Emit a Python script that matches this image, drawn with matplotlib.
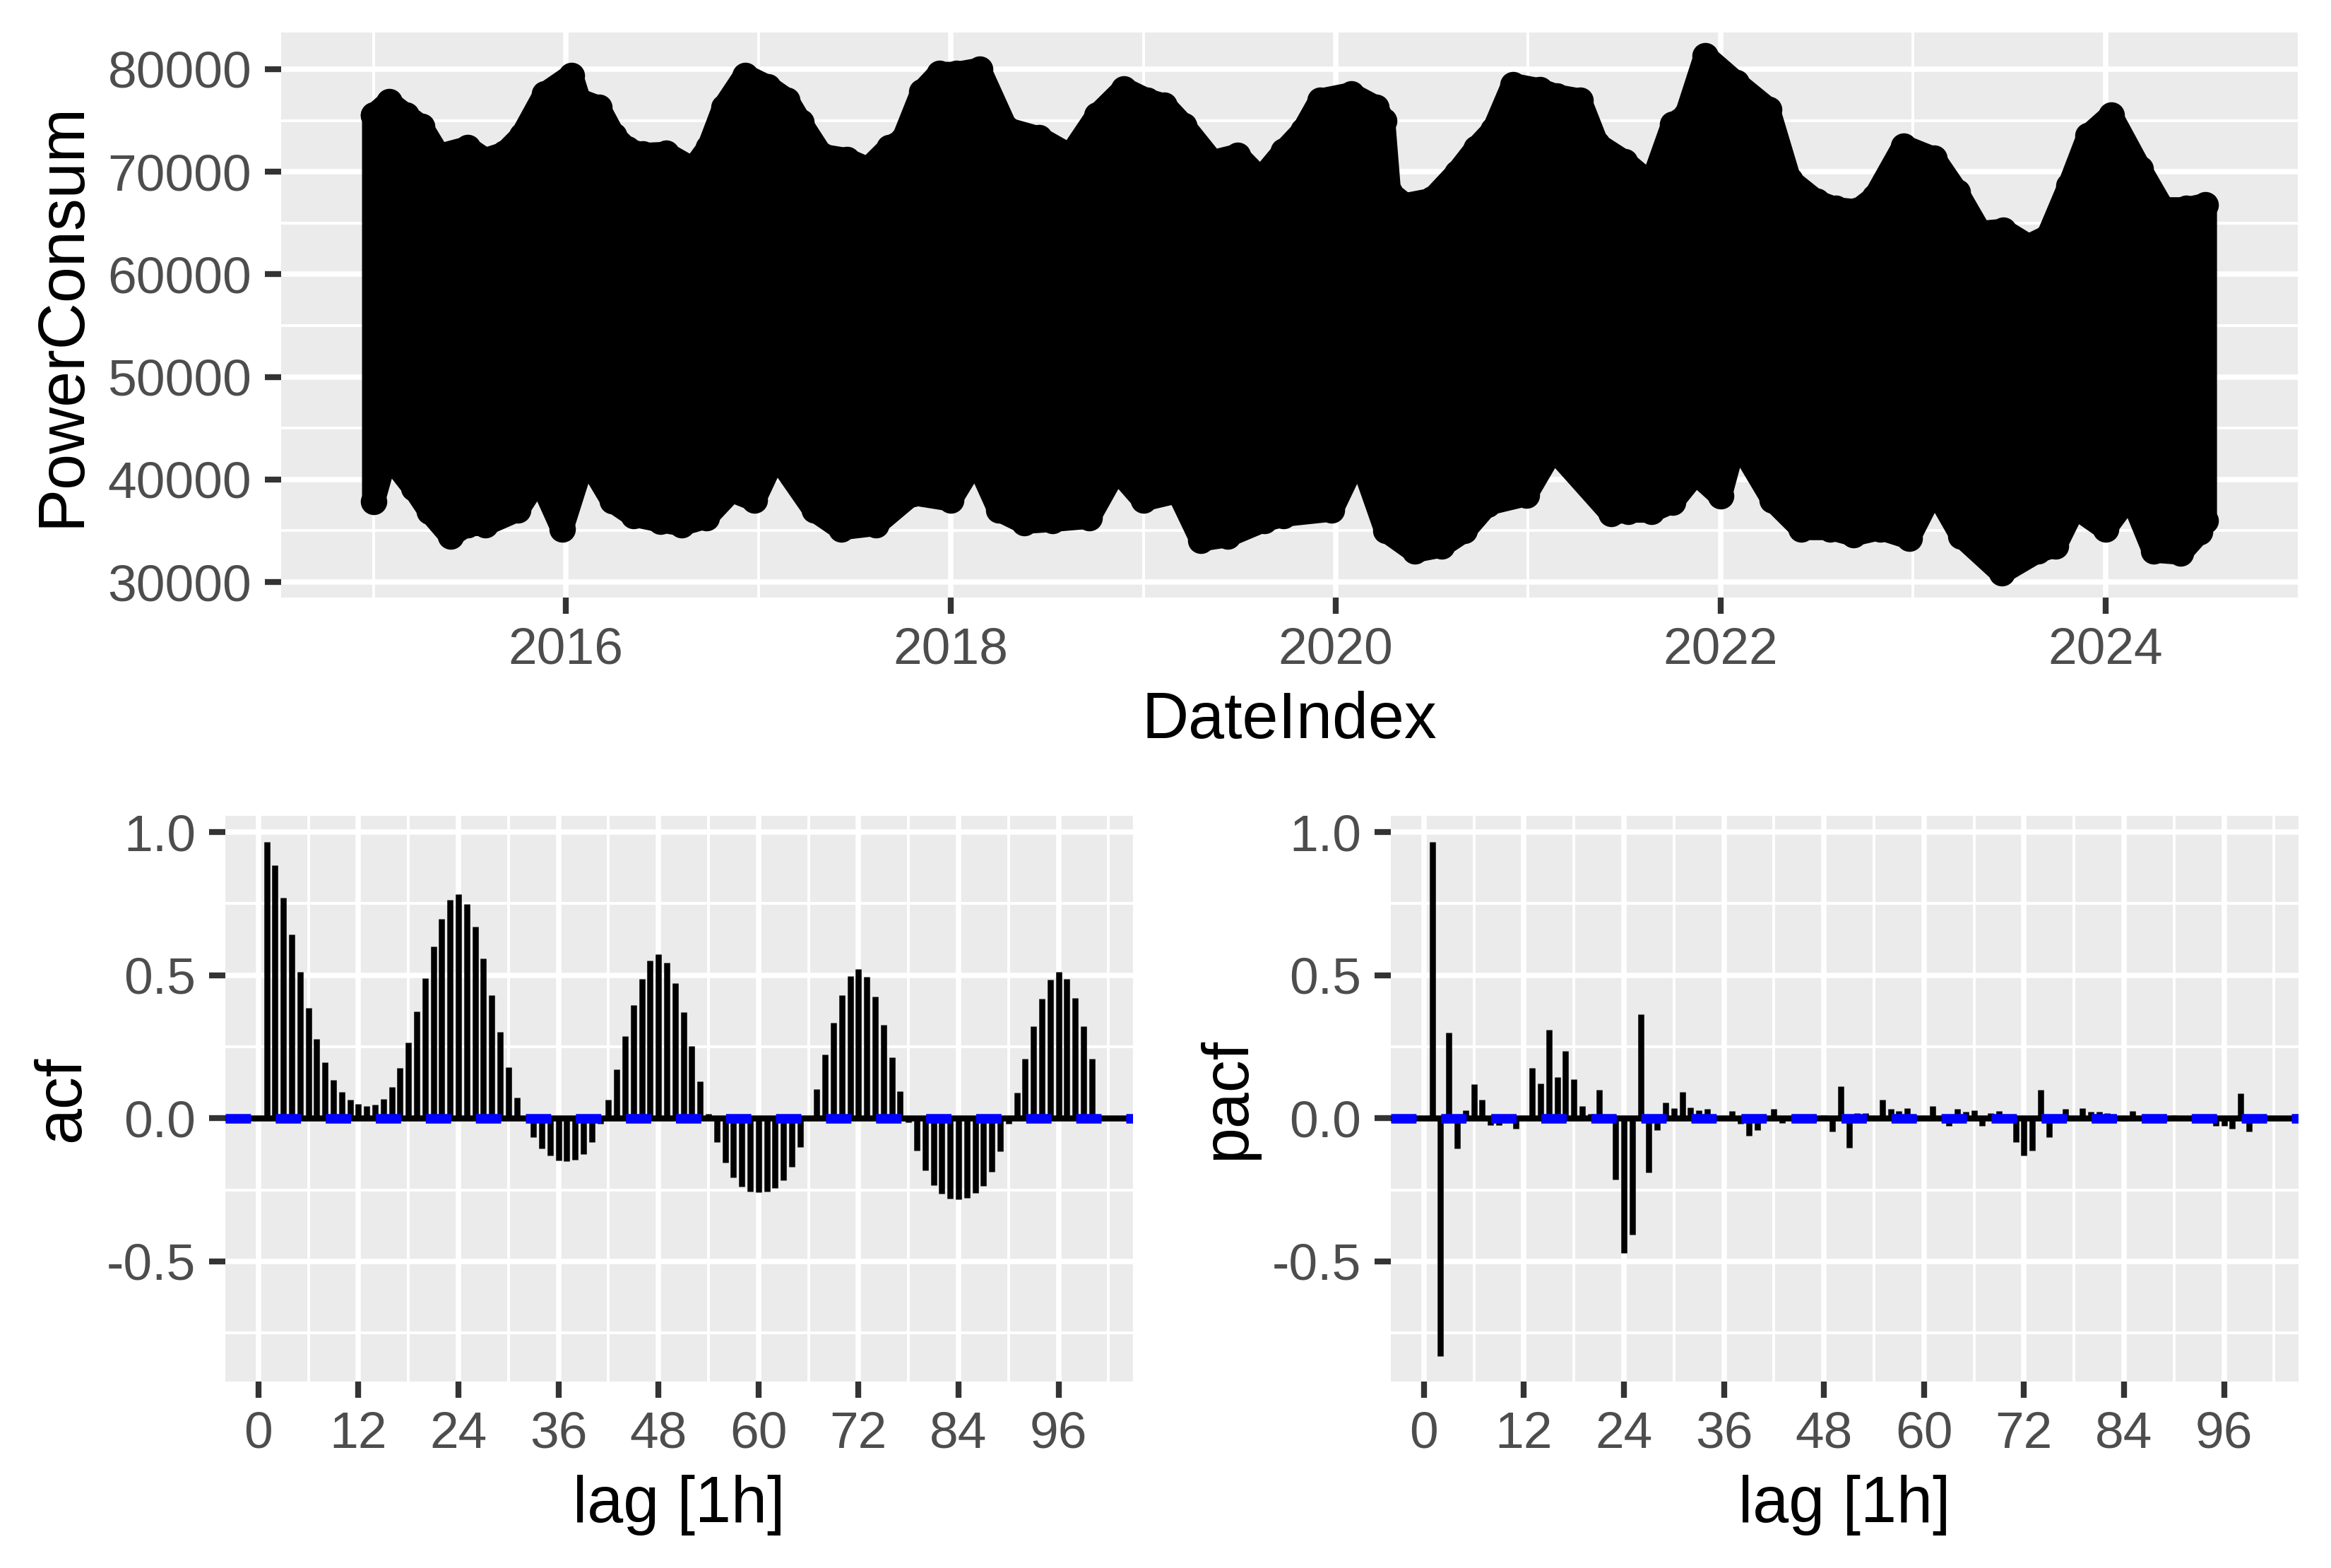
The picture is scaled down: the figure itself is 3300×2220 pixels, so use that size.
import numpy as np
import matplotlib.pyplot as plt

plt.rcParams['font.family'] = ['Liberation Sans', 'DejaVu Sans']
plt.rcParams['lines.scale_dashes'] = False

# outline of the hourly PowerConsum series (decimal year, value)
upper_year = [2015.00, 2015.08, 2015.17, 2015.25, 2015.34, 2015.49, 2015.58, 2015.68, 2015.77, 2015.89,
              2016.03, 2016.07, 2016.17, 2016.25, 2016.32, 2016.40, 2016.52, 2016.66, 2016.74, 2016.82,
              2016.93, 2017.05, 2017.15, 2017.22, 2017.33, 2017.46, 2017.57, 2017.68, 2017.75, 2017.85,
              2017.94, 2018.03, 2018.15, 2018.29, 2018.46, 2018.62, 2018.76, 2018.90, 2019.02, 2019.11,
              2019.21, 2019.36, 2019.49, 2019.61, 2019.73, 2019.83, 2019.92, 2020.08, 2020.21, 2020.25,
              2020.28, 2020.36, 2020.50, 2020.63, 2020.73, 2020.82, 2020.92, 2021.06, 2021.15, 2021.27,
              2021.36, 2021.50, 2021.64, 2021.75, 2021.82, 2021.92, 2022.08, 2022.25, 2022.36, 2022.50,
              2022.60, 2022.71, 2022.80, 2022.95, 2023.11, 2023.23, 2023.35, 2023.47, 2023.60, 2023.70,
              2023.81, 2023.91, 2024.03, 2024.18, 2024.30, 2024.42, 2024.52]
upper_val = [75500, 76800, 75500, 74400, 71600, 72350, 71200, 71800, 73500, 77600,
             79400, 77000, 76300, 73500, 72200, 71700, 71800, 70300, 72350, 76300,
             79400, 78300, 77000, 74800, 71600, 71200, 70300, 72350, 73100, 77800,
             79600, 79600, 80000, 74200, 73300, 71600, 75500, 78100, 77000, 76500,
             74500, 71000, 71600, 69300, 72000, 74000, 77000, 77600, 76300, 75000,
             68000, 66800, 67300, 69900, 72300, 74100, 78500, 78000, 77400, 77000,
             72700, 71000, 68800, 74600, 75500, 81300, 78700, 76100, 69200, 67100,
             66400, 66200, 67500, 72500, 71300, 68000, 64100, 64300, 62800, 63700,
             68600, 73500, 75500, 70300, 66400, 66400, 66800]
lower_year = [2015.00, 2015.07, 2015.21, 2015.29, 2015.40, 2015.49, 2015.58, 2015.75, 2015.86, 2015.98,
              2016.10, 2016.24, 2016.35, 2016.49, 2016.60, 2016.73, 2016.86, 2016.98, 2017.09, 2017.29,
              2017.43, 2017.61, 2017.80, 2018.00, 2018.13, 2018.25, 2018.38, 2018.53, 2018.72, 2018.86,
              2019.00, 2019.18, 2019.30, 2019.44, 2019.63, 2019.73, 2019.98, 2020.12, 2020.26, 2020.41,
              2020.55, 2020.67, 2020.79, 2020.99, 2021.13, 2021.43, 2021.52, 2021.64, 2021.75, 2021.87,
              2022.00, 2022.08, 2022.27, 2022.42, 2022.57, 2022.69, 2022.83, 2022.98, 2023.11, 2023.25,
              2023.46, 2023.65, 2023.74, 2023.84, 2024.00, 2024.13, 2024.25, 2024.39, 2024.49, 2024.52]
lower_val = [37840, 42500, 39150, 36900, 34500, 35600, 35600, 37000, 40200, 35200,
             42300, 37900, 36500, 35950, 35600, 36300, 38900, 38000, 42400, 37000,
             35200, 35600, 38600, 38000, 42000, 37000, 35800, 36000, 36300, 41000,
             38000, 38800, 34100, 34500, 36000, 36500, 37000, 42500, 35000, 33000,
             33500, 35000, 37600, 38500, 43000, 36700, 36900, 36900, 37800, 40600,
             38400, 44000, 38000, 35200, 35200, 34600, 35200, 34300, 39100, 34500,
             30900, 33000, 33500, 37300, 35200, 38500, 33000, 32800, 34900, 36000]

year_ticks = [2016, 2018, 2020, 2022, 2024]
power_ticks = [30000, 40000, 50000, 60000, 70000, 80000]

lags = np.arange(1, 101)
acf_vals = [0.967, 0.885, 0.771, 0.643, 0.511, 0.386, 0.278, 0.195, 0.133, 0.093,
            0.066, 0.051, 0.043, 0.048, 0.068, 0.109, 0.177, 0.266, 0.374, 0.490,
            0.601, 0.697, 0.763, 0.784, 0.749, 0.669, 0.558, 0.431, 0.301, 0.179,
            0.073, 0.005, -0.065, -0.105, -0.130, -0.147, -0.150, -0.145, -0.126, -0.084,
            -0.019, 0.066, 0.172, 0.287, 0.395, 0.488, 0.551, 0.573, 0.543, 0.471,
            0.370, 0.252, 0.130, 0.015, -0.082, -0.155, -0.206, -0.238, -0.255, -0.259,
            -0.255, -0.244, -0.217, -0.169, -0.100, -0.005, 0.102, 0.222, 0.334, 0.429,
            0.496, 0.521, 0.494, 0.425, 0.327, 0.213, 0.094, -0.014, -0.112, -0.183,
            -0.233, -0.263, -0.280, -0.283, -0.277, -0.262, -0.235, -0.186, -0.116, -0.019,
            0.089, 0.208, 0.321, 0.418, 0.485, 0.511, 0.486, 0.420, 0.321, 0.209]
pacf_vals = [0.967, -0.830, 0.299, -0.105, 0.029, 0.118, 0.064, -0.024, -0.024, -0.003,
             -0.037, 0.008, 0.176, 0.122, 0.309, 0.144, 0.235, 0.136, 0.042, 0.015,
             0.100, -0.012, -0.213, -0.470, -0.407, 0.364, -0.190, -0.040, 0.055, 0.036,
             0.091, 0.039, 0.029, 0.033, -0.006, 0.008, 0.025, -0.019, -0.061, -0.042,
             -0.006, 0.032, -0.017, -0.006, -0.008, 0.001, -0.008, 0.011, -0.047, 0.111,
             -0.102, 0.019, 0.019, -0.006, 0.064, 0.033, 0.025, 0.036, -0.008, -0.006,
             0.043, -0.006, -0.026, 0.033, 0.022, 0.029, -0.026, 0.019, 0.025, -0.012,
             -0.082, -0.130, -0.112, 0.100, -0.065, -0.006, 0.032, -0.006, 0.036, 0.022,
             0.022, 0.019, -0.006, -0.008, 0.025, 0.001, -0.006, -0.003, -0.008, 0.011,
             0.008, 0.006, 0.000, -0.006, -0.026, -0.026, -0.036, 0.087, -0.047, -0.006]
ci = 0.0068
lag_ticks = [0, 12, 24, 36, 48, 60, 72, 84, 96]
corr_ticks = [-0.5, 0.0, 0.5, 1.0]
corr_labels = ['-0.5', '0.0', '0.5', '1.0']


def gg_style(ax):
    ax.set_facecolor('#EBEBEB')
    for s in ax.spines.values():
        s.set_visible(False)
    ax.grid(which='major', color='white', lw=1.8)
    ax.grid(which='minor', color='white', lw=0.95)
    ax.set_axisbelow(True)
    ax.tick_params(which='major', length=5.5, width=2.0, color='#333333',
                   labelcolor='#4D4D4D', labelsize=17.6, pad=4.5)
    ax.tick_params(which='minor', length=0)


fig = plt.figure(figsize=(11, 7.4), dpi=300)
ax_ts = fig.add_axes([0.1206, 0.6189, 0.8652, 0.3604])
ax_acf = fig.add_axes([0.0967, 0.1189, 0.3894, 0.3608])
ax_pacf = fig.add_axes([0.5967, 0.1189, 0.3894, 0.3608])

# time series
gg_style(ax_ts)
poly_x = np.concatenate([upper_year, lower_year[::-1]])
poly_y = np.concatenate([upper_val, lower_val[::-1]])
ax_ts.fill(poly_x, poly_y, color='black', lw=0)
ax_ts.plot(np.append(poly_x, poly_x[0]), np.append(poly_y, poly_y[0]), color='black', lw=7.8,
           solid_joinstyle='round', solid_capstyle='round', marker='o', ms=8)
ax_ts.set_xlim(2014.52, 2025.0)
ax_ts.set_ylim(28485, 83580)
ax_ts.set_xticks(year_ticks)
ax_ts.set_xticklabels([str(y) for y in year_ticks])
ax_ts.set_xticks([2015, 2017, 2019, 2021, 2023], minor=True)
ax_ts.set_yticks(power_ticks)
ax_ts.set_yticklabels([str(v) for v in power_ticks])
ax_ts.set_yticks([35000, 45000, 55000, 65000, 75000], minor=True)
ax_ts.set_xlabel('DateIndex', fontsize=22, va='baseline')
ax_ts.set_ylabel('PowerConsum', fontsize=22)
ax_ts.xaxis.set_label_coords(0.5, -0.249)
ax_ts.yaxis.set_label_coords(-0.0935, 0.5)

# acf / pacf
for ax, vals, name in [(ax_acf, acf_vals, 'acf'), (ax_pacf, pacf_vals, 'pacf')]:
    gg_style(ax)
    ax.axhline(0, color='black', lw=2.05, zorder=2)
    ax.vlines(lags, 0, vals, color='black', lw=2.05, zorder=3)
    for c in (ci, -ci):
        ax.axhline(c, color='blue', lw=2.05, linestyle=(0, (8.6, 8.4)),
                   dash_capstyle='butt', zorder=4)
    ax.set_xlim(-3.95, 104.95)
    ax.set_ylim(-0.92, 1.057)
    ax.set_xticks(lag_ticks)
    ax.set_xticklabels([str(t) for t in lag_ticks])
    ax.set_xticks(np.arange(6, 103, 12), minor=True)
    ax.set_yticks(corr_ticks)
    ax.set_yticklabels(corr_labels)
    ax.set_yticks([-0.75, -0.25, 0.25, 0.75], minor=True)
    ax.set_xlabel('lag [1h]', fontsize=22, va='baseline')
    ax.set_ylabel(name, fontsize=22)
    ax.xaxis.set_label_coords(0.5, -0.2484)
    ax.yaxis.set_label_coords(-0.1463, 0.5)

fig.savefig('out.png', dpi=300, facecolor='white')
